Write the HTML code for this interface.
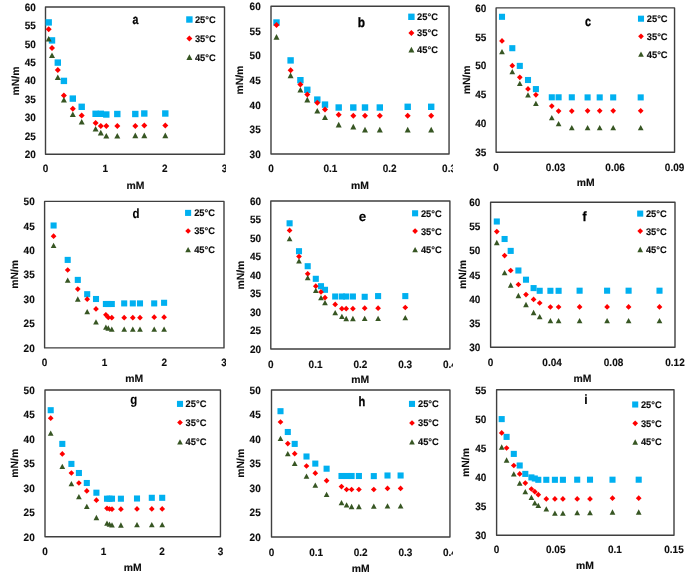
<!DOCTYPE html>
<html><head><meta charset="utf-8"><style>
html,body{margin:0;padding:0;background:#fff;}
body{width:685px;height:572px;overflow:hidden;}
svg{display:block;text-rendering:geometricPrecision;will-change:transform;}
text{font-family:"Liberation Sans",sans-serif;font-weight:bold;fill:#0d0d0d;stroke:#0d0d0d;stroke-width:0.12px;}
</style></head><body>
<svg width="685" height="572" viewBox="0 0 685 572">
<rect x="0" y="0" width="685" height="572" fill="#fff"/>
<defs>
<clipPath id="ca"><rect x="0" y="0" width="226" height="190"/></clipPath>
<clipPath id="cb"><rect x="226" y="0" width="227" height="190"/></clipPath>
<clipPath id="cc"><rect x="453" y="0" width="232" height="190"/></clipPath>
<clipPath id="cd"><rect x="0" y="190" width="226" height="196"/></clipPath>
<clipPath id="ce"><rect x="226" y="190" width="227" height="196"/></clipPath>
<clipPath id="cf"><rect x="453" y="190" width="232" height="196"/></clipPath>
<clipPath id="cg"><rect x="0" y="386" width="226" height="186"/></clipPath>
<clipPath id="ch"><rect x="226" y="386" width="227" height="186"/></clipPath>
<clipPath id="ci"><rect x="453" y="386" width="232" height="186"/></clipPath>
</defs>
<g clip-path="url(#ca)">
<rect x="45.5" y="7" width="179" height="147.3" fill="none" stroke="#3f3f3f" stroke-width="1.4" stroke-linejoin="round"/>
<text transform="translate(35.8 154.3) scale(1.02 1.08)" y="3.5" text-anchor="end" font-size="9.8">20</text>
<text transform="translate(35.8 135.89) scale(1.02 1.08)" y="3.5" text-anchor="end" font-size="9.8">25</text>
<text transform="translate(35.8 117.48) scale(1.02 1.08)" y="3.5" text-anchor="end" font-size="9.8">30</text>
<text transform="translate(35.8 99.06) scale(1.02 1.08)" y="3.5" text-anchor="end" font-size="9.8">35</text>
<text transform="translate(35.8 80.65) scale(1.02 1.08)" y="3.5" text-anchor="end" font-size="9.8">40</text>
<text transform="translate(35.8 62.24) scale(1.02 1.08)" y="3.5" text-anchor="end" font-size="9.8">45</text>
<text transform="translate(35.8 43.83) scale(1.02 1.08)" y="3.5" text-anchor="end" font-size="9.8">50</text>
<text transform="translate(35.8 25.41) scale(1.02 1.08)" y="3.5" text-anchor="end" font-size="9.8">55</text>
<text transform="translate(35.8 7) scale(1.02 1.08)" y="3.5" text-anchor="end" font-size="9.8">60</text>
<text transform="translate(45.5 168.7) scale(1.02 1.08)" y="3.5" text-anchor="middle" font-size="9.8">0</text>
<text transform="translate(105.17 168.7) scale(1.02 1.08)" y="3.5" text-anchor="middle" font-size="9.8">1</text>
<text transform="translate(164.83 168.7) scale(1.02 1.08)" y="3.5" text-anchor="middle" font-size="9.8">2</text>
<text transform="translate(224.5 168.7) scale(1.02 1.08)" y="3.5" text-anchor="middle" font-size="9.8">3</text>
<text x="135.4" y="188.7" text-anchor="middle" font-size="10.4">mM</text>
<text transform="translate(19 81) rotate(-90)" x="0" y="0" text-anchor="middle" font-size="10.4" textLength="28.9" lengthAdjust="spacingAndGlyphs">mN/m</text>
<text transform="translate(135.3 23.7) scale(0.78 1)" x="0" y="0" text-anchor="middle" font-size="13.5" style="fill:#000;stroke:#000;stroke-width:0.3px">a</text>
<rect x="186.2" y="16.3" width="6.4" height="6.4" fill="#00B0F0"/>
<path d="M189.4 35.4L192.4 38.4L189.4 41.4L186.4 38.4Z" fill="#FF0000"/>
<path d="M189.4 54.3L192.4 59.9L186.4 59.9Z" fill="#375623"/>
<text x="194.9" y="22.9" font-size="9.6" textLength="20.8" lengthAdjust="spacingAndGlyphs">25°C</text>
<text x="194.9" y="41.8" font-size="9.6" textLength="20.8" lengthAdjust="spacingAndGlyphs">35°C</text>
<text x="194.9" y="60.5" font-size="9.6" textLength="20.8" lengthAdjust="spacingAndGlyphs">45°C</text>
<rect x="45.5" y="19.2" width="6.4" height="6.4" fill="#00B0F0"/>
<rect x="48.8" y="37.2" width="6.4" height="6.4" fill="#00B0F0"/>
<rect x="54.6" y="59.4" width="6.4" height="6.4" fill="#00B0F0"/>
<rect x="60.7" y="77.7" width="6.4" height="6.4" fill="#00B0F0"/>
<rect x="69.6" y="95.4" width="6.4" height="6.4" fill="#00B0F0"/>
<rect x="78.5" y="103.6" width="6.4" height="6.4" fill="#00B0F0"/>
<rect x="92.4" y="110.6" width="6.4" height="6.4" fill="#00B0F0"/>
<rect x="97.6" y="110.6" width="6.4" height="6.4" fill="#00B0F0"/>
<rect x="103.1" y="111.3" width="6.4" height="6.4" fill="#00B0F0"/>
<rect x="114.1" y="110.8" width="6.4" height="6.4" fill="#00B0F0"/>
<rect x="132.1" y="110.8" width="6.4" height="6.4" fill="#00B0F0"/>
<rect x="141.1" y="110.3" width="6.4" height="6.4" fill="#00B0F0"/>
<rect x="162.1" y="110.3" width="6.4" height="6.4" fill="#00B0F0"/>
<path d="M48.7 26.3L51.7 29.3L48.7 32.3L45.7 29.3Z" fill="#FF0000"/>
<path d="M52 44.9L55 47.9L52 50.9L49 47.9Z" fill="#FF0000"/>
<path d="M57.8 67.1L60.8 70.1L57.8 73.1L54.8 70.1Z" fill="#FF0000"/>
<path d="M63.9 92.4L66.9 95.4L63.9 98.4L60.9 95.4Z" fill="#FF0000"/>
<path d="M72.8 105.7L75.8 108.7L72.8 111.7L69.8 108.7Z" fill="#FF0000"/>
<path d="M81.7 112.6L84.7 115.6L81.7 118.6L78.7 115.6Z" fill="#FF0000"/>
<path d="M95.6 119.9L98.6 122.9L95.6 125.9L92.6 122.9Z" fill="#FF0000"/>
<path d="M100.8 122.9L103.8 125.9L100.8 128.9L97.8 125.9Z" fill="#FF0000"/>
<path d="M106.3 122.9L109.3 125.9L106.3 128.9L103.3 125.9Z" fill="#FF0000"/>
<path d="M117.3 122.9L120.3 125.9L117.3 128.9L114.3 125.9Z" fill="#FF0000"/>
<path d="M135.3 122.9L138.3 125.9L135.3 128.9L132.3 125.9Z" fill="#FF0000"/>
<path d="M144.3 122.5L147.3 125.5L144.3 128.5L141.3 125.5Z" fill="#FF0000"/>
<path d="M165.3 122.5L168.3 125.5L165.3 128.5L162.3 125.5Z" fill="#FF0000"/>
<path d="M48.7 36L51.7 41.6L45.7 41.6Z" fill="#375623"/>
<path d="M52 52.5L55 58.1L49 58.1Z" fill="#375623"/>
<path d="M57.8 74.5L60.8 80.1L54.8 80.1Z" fill="#375623"/>
<path d="M63.9 97L66.9 102.6L60.9 102.6Z" fill="#375623"/>
<path d="M72.8 111.4L75.8 117L69.8 117Z" fill="#375623"/>
<path d="M81.7 118.9L84.7 124.5L78.7 124.5Z" fill="#375623"/>
<path d="M95.6 125.9L98.6 131.5L92.6 131.5Z" fill="#375623"/>
<path d="M100.8 129.8L103.8 135.4L97.8 135.4Z" fill="#375623"/>
<path d="M106.3 132.9L109.3 138.5L103.3 138.5Z" fill="#375623"/>
<path d="M117.3 132.9L120.3 138.5L114.3 138.5Z" fill="#375623"/>
<path d="M135.3 132.6L138.3 138.2L132.3 138.2Z" fill="#375623"/>
<path d="M144.3 132.6L147.3 138.2L141.3 138.2Z" fill="#375623"/>
<path d="M165.3 132.6L168.3 138.2L162.3 138.2Z" fill="#375623"/>
</g>
<g clip-path="url(#cb)">
<rect x="271" y="6.2" width="178.05" height="147.8" fill="none" stroke="#3f3f3f" stroke-width="1.4" stroke-linejoin="round"/>
<text transform="translate(260.7 154) scale(1.02 1.08)" y="3.5" text-anchor="end" font-size="9.8">30</text>
<text transform="translate(260.7 129.37) scale(1.02 1.08)" y="3.5" text-anchor="end" font-size="9.8">35</text>
<text transform="translate(260.7 104.73) scale(1.02 1.08)" y="3.5" text-anchor="end" font-size="9.8">40</text>
<text transform="translate(260.7 80.1) scale(1.02 1.08)" y="3.5" text-anchor="end" font-size="9.8">45</text>
<text transform="translate(260.7 55.47) scale(1.02 1.08)" y="3.5" text-anchor="end" font-size="9.8">50</text>
<text transform="translate(260.7 30.83) scale(1.02 1.08)" y="3.5" text-anchor="end" font-size="9.8">55</text>
<text transform="translate(260.7 6.2) scale(1.02 1.08)" y="3.5" text-anchor="end" font-size="9.8">60</text>
<text transform="translate(271 168.4) scale(1.02 1.08)" y="3.5" text-anchor="middle" font-size="9.8">0</text>
<text transform="translate(330.35 168.4) scale(1.02 1.08)" y="3.5" text-anchor="middle" font-size="9.8">0.1</text>
<text transform="translate(389.7 168.4) scale(1.02 1.08)" y="3.5" text-anchor="middle" font-size="9.8">0.2</text>
<text transform="translate(449.05 168.4) scale(1.02 1.08)" y="3.5" text-anchor="middle" font-size="9.8">0.3</text>
<text x="360" y="188.7" text-anchor="middle" font-size="10.4">mM</text>
<text transform="translate(243.3 80.1) rotate(-90)" x="0" y="0" text-anchor="middle" font-size="10.4" textLength="28.9" lengthAdjust="spacingAndGlyphs">mN/m</text>
<text transform="translate(361.3 26.8) scale(0.88 1)" x="0" y="0" text-anchor="middle" font-size="13.5" style="fill:#000;stroke:#000;stroke-width:0.3px">b</text>
<rect x="408.2" y="13.6" width="6.4" height="6.4" fill="#00B0F0"/>
<path d="M411.4 29.9L414.4 32.9L411.4 35.9L408.4 32.9Z" fill="#FF0000"/>
<path d="M411.4 46.8L414.4 52.4L408.4 52.4Z" fill="#375623"/>
<text x="417.1" y="20.2" font-size="9.6" textLength="20.8" lengthAdjust="spacingAndGlyphs">25°C</text>
<text x="417.1" y="36.3" font-size="9.6" textLength="20.8" lengthAdjust="spacingAndGlyphs">35°C</text>
<text x="417.1" y="53" font-size="9.6" textLength="20.8" lengthAdjust="spacingAndGlyphs">45°C</text>
<rect x="273.3" y="19.3" width="6.4" height="6.4" fill="#00B0F0"/>
<rect x="287.4" y="57.2" width="6.4" height="6.4" fill="#00B0F0"/>
<rect x="297.2" y="77" width="6.4" height="6.4" fill="#00B0F0"/>
<rect x="304.1" y="86.6" width="6.4" height="6.4" fill="#00B0F0"/>
<rect x="314.1" y="96.4" width="6.4" height="6.4" fill="#00B0F0"/>
<rect x="321.8" y="101.4" width="6.4" height="6.4" fill="#00B0F0"/>
<rect x="335.5" y="104.3" width="6.4" height="6.4" fill="#00B0F0"/>
<rect x="350.1" y="104.3" width="6.4" height="6.4" fill="#00B0F0"/>
<rect x="361.8" y="104.3" width="6.4" height="6.4" fill="#00B0F0"/>
<rect x="376.6" y="104.3" width="6.4" height="6.4" fill="#00B0F0"/>
<rect x="404.5" y="103.6" width="6.4" height="6.4" fill="#00B0F0"/>
<rect x="428" y="103.6" width="6.4" height="6.4" fill="#00B0F0"/>
<path d="M276.5 22L279.5 25L276.5 28L273.5 25Z" fill="#FF0000"/>
<path d="M290.6 67.2L293.6 70.2L290.6 73.2L287.6 70.2Z" fill="#FF0000"/>
<path d="M300.4 81.6L303.4 84.6L300.4 87.6L297.4 84.6Z" fill="#FF0000"/>
<path d="M307.3 91.6L310.3 94.6L307.3 97.6L304.3 94.6Z" fill="#FF0000"/>
<path d="M317.3 99.7L320.3 102.7L317.3 105.7L314.3 102.7Z" fill="#FF0000"/>
<path d="M325 106.4L328 109.4L325 112.4L322 109.4Z" fill="#FF0000"/>
<path d="M338.7 111.8L341.7 114.8L338.7 117.8L335.7 114.8Z" fill="#FF0000"/>
<path d="M353.3 112.8L356.3 115.8L353.3 118.8L350.3 115.8Z" fill="#FF0000"/>
<path d="M365 112.8L368 115.8L365 118.8L362 115.8Z" fill="#FF0000"/>
<path d="M379.8 112.8L382.8 115.8L379.8 118.8L376.8 115.8Z" fill="#FF0000"/>
<path d="M407.7 112.8L410.7 115.8L407.7 118.8L404.7 115.8Z" fill="#FF0000"/>
<path d="M431.2 112.8L434.2 115.8L431.2 118.8L428.2 115.8Z" fill="#FF0000"/>
<path d="M276.5 34.1L279.5 39.7L273.5 39.7Z" fill="#375623"/>
<path d="M290.6 72.6L293.6 78.2L287.6 78.2Z" fill="#375623"/>
<path d="M300.4 87L303.4 92.6L297.4 92.6Z" fill="#375623"/>
<path d="M307.3 96.8L310.3 102.4L304.3 102.4Z" fill="#375623"/>
<path d="M317.3 108L320.3 113.6L314.3 113.6Z" fill="#375623"/>
<path d="M325 114.5L328 120.1L322 120.1Z" fill="#375623"/>
<path d="M338.7 121.8L341.7 127.4L335.7 127.4Z" fill="#375623"/>
<path d="M353.3 123.8L356.3 129.4L350.3 129.4Z" fill="#375623"/>
<path d="M365 126.8L368 132.4L362 132.4Z" fill="#375623"/>
<path d="M379.8 126.8L382.8 132.4L376.8 132.4Z" fill="#375623"/>
<path d="M407.7 126.8L410.7 132.4L404.7 132.4Z" fill="#375623"/>
<path d="M431.2 126.8L434.2 132.4L428.2 132.4Z" fill="#375623"/>
</g>
<g clip-path="url(#cc)">
<rect x="496.1" y="7.9" width="178.45" height="144.4" fill="none" stroke="#3f3f3f" stroke-width="1.4" stroke-linejoin="round"/>
<text transform="translate(486.3 152.3) scale(1.02 1.08)" y="3.5" text-anchor="end" font-size="9.8">35</text>
<text transform="translate(486.3 123.42) scale(1.02 1.08)" y="3.5" text-anchor="end" font-size="9.8">40</text>
<text transform="translate(486.3 94.54) scale(1.02 1.08)" y="3.5" text-anchor="end" font-size="9.8">45</text>
<text transform="translate(486.3 65.66) scale(1.02 1.08)" y="3.5" text-anchor="end" font-size="9.8">50</text>
<text transform="translate(486.3 36.78) scale(1.02 1.08)" y="3.5" text-anchor="end" font-size="9.8">55</text>
<text transform="translate(486.3 7.9) scale(1.02 1.08)" y="3.5" text-anchor="end" font-size="9.8">60</text>
<text transform="translate(496.1 166.8) scale(1.02 1.08)" y="3.5" text-anchor="middle" font-size="9.8">0</text>
<text transform="translate(555.58 166.8) scale(1.02 1.08)" y="3.5" text-anchor="middle" font-size="9.8">0.03</text>
<text transform="translate(615.07 166.8) scale(1.02 1.08)" y="3.5" text-anchor="middle" font-size="9.8">0.06</text>
<text transform="translate(674.55 166.8) scale(1.02 1.08)" y="3.5" text-anchor="middle" font-size="9.8">0.09</text>
<text x="585.7" y="186.4" text-anchor="middle" font-size="10.4">mM</text>
<text transform="translate(469.5 79.9) rotate(-90)" x="0" y="0" text-anchor="middle" font-size="10.4" textLength="28.9" lengthAdjust="spacingAndGlyphs">mN/m</text>
<text transform="translate(588 25.9) scale(0.8 1)" x="0" y="0" text-anchor="middle" font-size="13.5" style="fill:#000;stroke:#000;stroke-width:0.3px">c</text>
<rect x="637.96" y="15.66" width="6.08" height="6.08" fill="#00B0F0"/>
<path d="M641 33.45L643.85 36.3L641 39.15L638.15 36.3Z" fill="#FF0000"/>
<path d="M641 51.54L643.85 56.86L638.15 56.86Z" fill="#375623"/>
<text x="646.8" y="22.1" font-size="9.6" textLength="20.8" lengthAdjust="spacingAndGlyphs">25°C</text>
<text x="646.8" y="39.7" font-size="9.6" textLength="20.8" lengthAdjust="spacingAndGlyphs">35°C</text>
<text x="646.8" y="57.6" font-size="9.6" textLength="20.8" lengthAdjust="spacingAndGlyphs">45°C</text>
<rect x="498.96" y="13.76" width="6.08" height="6.08" fill="#00B0F0"/>
<rect x="509.26" y="45.16" width="6.08" height="6.08" fill="#00B0F0"/>
<rect x="516.76" y="62.86" width="6.08" height="6.08" fill="#00B0F0"/>
<rect x="524.96" y="76.96" width="6.08" height="6.08" fill="#00B0F0"/>
<rect x="532.86" y="86.06" width="6.08" height="6.08" fill="#00B0F0"/>
<rect x="548.76" y="94.26" width="6.08" height="6.08" fill="#00B0F0"/>
<rect x="555.56" y="94.26" width="6.08" height="6.08" fill="#00B0F0"/>
<rect x="568.76" y="94.26" width="6.08" height="6.08" fill="#00B0F0"/>
<rect x="584.56" y="94.36" width="6.08" height="6.08" fill="#00B0F0"/>
<rect x="596.66" y="94.36" width="6.08" height="6.08" fill="#00B0F0"/>
<rect x="610.16" y="94.36" width="6.08" height="6.08" fill="#00B0F0"/>
<rect x="637.66" y="94.36" width="6.08" height="6.08" fill="#00B0F0"/>
<path d="M502 38.05L504.85 40.9L502 43.75L499.15 40.9Z" fill="#FF0000"/>
<path d="M512.3 62.85L515.15 65.7L512.3 68.55L509.45 65.7Z" fill="#FF0000"/>
<path d="M519.8 74.45L522.65 77.3L519.8 80.15L516.95 77.3Z" fill="#FF0000"/>
<path d="M528 86.05L530.85 88.9L528 91.75L525.15 88.9Z" fill="#FF0000"/>
<path d="M535.9 91.95L538.75 94.8L535.9 97.65L533.05 94.8Z" fill="#FF0000"/>
<path d="M551.8 103.25L554.65 106.1L551.8 108.95L548.95 106.1Z" fill="#FF0000"/>
<path d="M558.6 108.25L561.45 111.1L558.6 113.95L555.75 111.1Z" fill="#FF0000"/>
<path d="M571.8 108.25L574.65 111.1L571.8 113.95L568.95 111.1Z" fill="#FF0000"/>
<path d="M587.6 107.95L590.45 110.8L587.6 113.65L584.75 110.8Z" fill="#FF0000"/>
<path d="M599.7 107.95L602.55 110.8L599.7 113.65L596.85 110.8Z" fill="#FF0000"/>
<path d="M613.2 107.95L616.05 110.8L613.2 113.65L610.35 110.8Z" fill="#FF0000"/>
<path d="M640.7 107.95L643.55 110.8L640.7 113.65L637.85 110.8Z" fill="#FF0000"/>
<path d="M502 48.94L504.85 54.26L499.15 54.26Z" fill="#375623"/>
<path d="M512.3 68.94L515.15 74.26L509.45 74.26Z" fill="#375623"/>
<path d="M519.8 80.74L522.65 86.06L516.95 86.06Z" fill="#375623"/>
<path d="M528 92.14L530.85 97.46L525.15 97.46Z" fill="#375623"/>
<path d="M535.9 100.74L538.75 106.06L533.05 106.06Z" fill="#375623"/>
<path d="M551.8 115.04L554.65 120.36L548.95 120.36Z" fill="#375623"/>
<path d="M558.6 120.94L561.45 126.26L555.75 126.26Z" fill="#375623"/>
<path d="M571.8 125.04L574.65 130.36L568.95 130.36Z" fill="#375623"/>
<path d="M587.6 124.94L590.45 130.26L584.75 130.26Z" fill="#375623"/>
<path d="M599.7 124.94L602.55 130.26L596.85 130.26Z" fill="#375623"/>
<path d="M613.2 124.94L616.05 130.26L610.35 130.26Z" fill="#375623"/>
<path d="M640.7 124.94L643.55 130.26L637.85 130.26Z" fill="#375623"/>
</g>
<g clip-path="url(#cd)">
<rect x="44.6" y="201.4" width="179.4" height="146.5" fill="none" stroke="#3f3f3f" stroke-width="1.4" stroke-linejoin="round"/>
<text transform="translate(34.7 347.9) scale(1.02 1.08)" y="3.5" text-anchor="end" font-size="9.8">20</text>
<text transform="translate(34.7 323.48) scale(1.02 1.08)" y="3.5" text-anchor="end" font-size="9.8">25</text>
<text transform="translate(34.7 299.07) scale(1.02 1.08)" y="3.5" text-anchor="end" font-size="9.8">30</text>
<text transform="translate(34.7 274.65) scale(1.02 1.08)" y="3.5" text-anchor="end" font-size="9.8">35</text>
<text transform="translate(34.7 250.23) scale(1.02 1.08)" y="3.5" text-anchor="end" font-size="9.8">40</text>
<text transform="translate(34.7 225.82) scale(1.02 1.08)" y="3.5" text-anchor="end" font-size="9.8">45</text>
<text transform="translate(34.7 201.4) scale(1.02 1.08)" y="3.5" text-anchor="end" font-size="9.8">50</text>
<text transform="translate(44.6 362.3) scale(1.02 1.08)" y="3.5" text-anchor="middle" font-size="9.8">0</text>
<text transform="translate(104.4 362.3) scale(1.02 1.08)" y="3.5" text-anchor="middle" font-size="9.8">1</text>
<text transform="translate(164.2 362.3) scale(1.02 1.08)" y="3.5" text-anchor="middle" font-size="9.8">2</text>
<text transform="translate(224 362.3) scale(1.02 1.08)" y="3.5" text-anchor="middle" font-size="9.8">3</text>
<text x="134.1" y="382.4" text-anchor="middle" font-size="10.4">mM</text>
<text transform="translate(17.5 274.4) rotate(-90)" x="0" y="0" text-anchor="middle" font-size="10.4" textLength="28.9" lengthAdjust="spacingAndGlyphs">mN/m</text>
<text transform="translate(135.9 218.3) scale(0.85 1)" x="0" y="0" text-anchor="middle" font-size="13.5" style="fill:#000;stroke:#000;stroke-width:0.1px">d</text>
<rect x="185.06" y="209.86" width="6.08" height="6.08" fill="#00B0F0"/>
<path d="M188.1 228.15L190.95 231L188.1 233.85L185.25 231Z" fill="#FF0000"/>
<path d="M188.1 246.94L190.95 252.26L185.25 252.26Z" fill="#375623"/>
<text x="194.2" y="216.3" font-size="9.6" textLength="20.8" lengthAdjust="spacingAndGlyphs">25°C</text>
<text x="194.2" y="234.4" font-size="9.6" textLength="20.8" lengthAdjust="spacingAndGlyphs">35°C</text>
<text x="194.2" y="253" font-size="9.6" textLength="20.8" lengthAdjust="spacingAndGlyphs">45°C</text>
<rect x="50.56" y="222.46" width="6.08" height="6.08" fill="#00B0F0"/>
<rect x="64.66" y="256.86" width="6.08" height="6.08" fill="#00B0F0"/>
<rect x="74.76" y="276.86" width="6.08" height="6.08" fill="#00B0F0"/>
<rect x="84.16" y="291.16" width="6.08" height="6.08" fill="#00B0F0"/>
<rect x="92.96" y="295.96" width="6.08" height="6.08" fill="#00B0F0"/>
<rect x="102.86" y="300.96" width="6.08" height="6.08" fill="#00B0F0"/>
<rect x="105.26" y="300.96" width="6.08" height="6.08" fill="#00B0F0"/>
<rect x="108.76" y="300.96" width="6.08" height="6.08" fill="#00B0F0"/>
<rect x="121.16" y="300.36" width="6.08" height="6.08" fill="#00B0F0"/>
<rect x="129.76" y="300.36" width="6.08" height="6.08" fill="#00B0F0"/>
<rect x="136.96" y="300.36" width="6.08" height="6.08" fill="#00B0F0"/>
<rect x="151.16" y="300.36" width="6.08" height="6.08" fill="#00B0F0"/>
<rect x="161.06" y="299.76" width="6.08" height="6.08" fill="#00B0F0"/>
<path d="M53.6 233.35L56.45 236.2L53.6 239.05L50.75 236.2Z" fill="#FF0000"/>
<path d="M67.7 267.15L70.55 270L67.7 272.85L64.85 270Z" fill="#FF0000"/>
<path d="M77.8 286.25L80.65 289.1L77.8 291.95L74.95 289.1Z" fill="#FF0000"/>
<path d="M87.2 296.35L90.05 299.2L87.2 302.05L84.35 299.2Z" fill="#FF0000"/>
<path d="M96 306.05L98.85 308.9L96 311.75L93.15 308.9Z" fill="#FF0000"/>
<path d="M105.9 311.95L108.75 314.8L105.9 317.65L103.05 314.8Z" fill="#FF0000"/>
<path d="M108.3 314.55L111.15 317.4L108.3 320.25L105.45 317.4Z" fill="#FF0000"/>
<path d="M111.8 314.85L114.65 317.7L111.8 320.55L108.95 317.7Z" fill="#FF0000"/>
<path d="M124.2 314.85L127.05 317.7L124.2 320.55L121.35 317.7Z" fill="#FF0000"/>
<path d="M132.8 314.85L135.65 317.7L132.8 320.55L129.95 317.7Z" fill="#FF0000"/>
<path d="M140 314.85L142.85 317.7L140 320.55L137.15 317.7Z" fill="#FF0000"/>
<path d="M154.2 314.35L157.05 317.2L154.2 320.05L151.35 317.2Z" fill="#FF0000"/>
<path d="M164.1 314.35L166.95 317.2L164.1 320.05L161.25 317.2Z" fill="#FF0000"/>
<path d="M53.6 242.74L56.45 248.06L50.75 248.06Z" fill="#375623"/>
<path d="M67.7 277.44L70.55 282.76L64.85 282.76Z" fill="#375623"/>
<path d="M77.8 296.34L80.65 301.66L74.95 301.66Z" fill="#375623"/>
<path d="M87.2 308.94L90.05 314.26L84.35 314.26Z" fill="#375623"/>
<path d="M96 319.24L98.85 324.56L93.15 324.56Z" fill="#375623"/>
<path d="M105.9 324.44L108.75 329.76L103.05 329.76Z" fill="#375623"/>
<path d="M108.3 325.34L111.15 330.66L105.45 330.66Z" fill="#375623"/>
<path d="M111.8 326.44L114.65 331.76L108.95 331.76Z" fill="#375623"/>
<path d="M124.2 326.44L127.05 331.76L121.35 331.76Z" fill="#375623"/>
<path d="M132.8 326.44L135.65 331.76L129.95 331.76Z" fill="#375623"/>
<path d="M140 326.44L142.85 331.76L137.15 331.76Z" fill="#375623"/>
<path d="M154.2 326.44L157.05 331.76L151.35 331.76Z" fill="#375623"/>
<path d="M164.1 326.44L166.95 331.76L161.25 331.76Z" fill="#375623"/>
</g>
<g clip-path="url(#ce)">
<rect x="270.8" y="201" width="179.1" height="148.05" fill="none" stroke="#3f3f3f" stroke-width="1.4" stroke-linejoin="round"/>
<text transform="translate(261 349.05) scale(1.02 1.08)" y="3.5" text-anchor="end" font-size="9.8">20</text>
<text transform="translate(261 330.54) scale(1.02 1.08)" y="3.5" text-anchor="end" font-size="9.8">25</text>
<text transform="translate(261 312.04) scale(1.02 1.08)" y="3.5" text-anchor="end" font-size="9.8">30</text>
<text transform="translate(261 293.53) scale(1.02 1.08)" y="3.5" text-anchor="end" font-size="9.8">35</text>
<text transform="translate(261 275.02) scale(1.02 1.08)" y="3.5" text-anchor="end" font-size="9.8">40</text>
<text transform="translate(261 256.52) scale(1.02 1.08)" y="3.5" text-anchor="end" font-size="9.8">45</text>
<text transform="translate(261 238.01) scale(1.02 1.08)" y="3.5" text-anchor="end" font-size="9.8">50</text>
<text transform="translate(261 219.51) scale(1.02 1.08)" y="3.5" text-anchor="end" font-size="9.8">55</text>
<text transform="translate(261 201) scale(1.02 1.08)" y="3.5" text-anchor="end" font-size="9.8">60</text>
<text transform="translate(270.8 363.8) scale(1.02 1.08)" y="3.5" text-anchor="middle" font-size="9.8">0</text>
<text transform="translate(315.57 363.8) scale(1.02 1.08)" y="3.5" text-anchor="middle" font-size="9.8">0.1</text>
<text transform="translate(360.35 363.8) scale(1.02 1.08)" y="3.5" text-anchor="middle" font-size="9.8">0.2</text>
<text transform="translate(405.12 363.8) scale(1.02 1.08)" y="3.5" text-anchor="middle" font-size="9.8">0.3</text>
<text transform="translate(449.9 363.8) scale(1.02 1.08)" y="3.5" text-anchor="middle" font-size="9.8">0.4</text>
<text x="360.1" y="383" text-anchor="middle" font-size="10.4">mM</text>
<text transform="translate(243.5 275.1) rotate(-90)" x="0" y="0" text-anchor="middle" font-size="10.4" textLength="28.9" lengthAdjust="spacingAndGlyphs">mN/m</text>
<text transform="translate(362.6 220.5) scale(1.0 1)" x="0" y="0" text-anchor="middle" font-size="13.5" style="fill:#000;stroke:#000;stroke-width:0.1px">e</text>
<rect x="412.06" y="210.26" width="6.08" height="6.08" fill="#00B0F0"/>
<path d="M415.1 228.25L417.95 231.1L415.1 233.95L412.25 231.1Z" fill="#FF0000"/>
<path d="M415.1 247.04L417.95 252.36L412.25 252.36Z" fill="#375623"/>
<text x="420.9" y="216.7" font-size="9.6" textLength="20.8" lengthAdjust="spacingAndGlyphs">25°C</text>
<text x="420.9" y="234.5" font-size="9.6" textLength="20.8" lengthAdjust="spacingAndGlyphs">35°C</text>
<text x="420.9" y="253.1" font-size="9.6" textLength="20.8" lengthAdjust="spacingAndGlyphs">45°C</text>
<rect x="286.56" y="220.26" width="6.08" height="6.08" fill="#00B0F0"/>
<rect x="295.96" y="248.16" width="6.08" height="6.08" fill="#00B0F0"/>
<rect x="304.66" y="263.16" width="6.08" height="6.08" fill="#00B0F0"/>
<rect x="312.76" y="275.76" width="6.08" height="6.08" fill="#00B0F0"/>
<rect x="317.96" y="283.16" width="6.08" height="6.08" fill="#00B0F0"/>
<rect x="321.96" y="286.76" width="6.08" height="6.08" fill="#00B0F0"/>
<rect x="332.16" y="293.46" width="6.08" height="6.08" fill="#00B0F0"/>
<rect x="338.86" y="293.46" width="6.08" height="6.08" fill="#00B0F0"/>
<rect x="343.16" y="293.46" width="6.08" height="6.08" fill="#00B0F0"/>
<rect x="349.86" y="293.46" width="6.08" height="6.08" fill="#00B0F0"/>
<rect x="361.66" y="293.76" width="6.08" height="6.08" fill="#00B0F0"/>
<rect x="375.06" y="293.06" width="6.08" height="6.08" fill="#00B0F0"/>
<rect x="402.26" y="293.06" width="6.08" height="6.08" fill="#00B0F0"/>
<path d="M289.6 227.55L292.45 230.4L289.6 233.25L286.75 230.4Z" fill="#FF0000"/>
<path d="M299 253.65L301.85 256.5L299 259.35L296.15 256.5Z" fill="#FF0000"/>
<path d="M307.7 270.95L310.55 273.8L307.7 276.65L304.85 273.8Z" fill="#FF0000"/>
<path d="M315.8 283.35L318.65 286.2L315.8 289.05L312.95 286.2Z" fill="#FF0000"/>
<path d="M321 289.05L323.85 291.9L321 294.75L318.15 291.9Z" fill="#FF0000"/>
<path d="M325 294.85L327.85 297.7L325 300.55L322.15 297.7Z" fill="#FF0000"/>
<path d="M335.2 301.55L338.05 304.4L335.2 307.25L332.35 304.4Z" fill="#FF0000"/>
<path d="M341.9 305.85L344.75 308.7L341.9 311.55L339.05 308.7Z" fill="#FF0000"/>
<path d="M346.2 305.85L349.05 308.7L346.2 311.55L343.35 308.7Z" fill="#FF0000"/>
<path d="M352.9 305.85L355.75 308.7L352.9 311.55L350.05 308.7Z" fill="#FF0000"/>
<path d="M364.7 305.35L367.55 308.2L364.7 311.05L361.85 308.2Z" fill="#FF0000"/>
<path d="M378.1 305.35L380.95 308.2L378.1 311.05L375.25 308.2Z" fill="#FF0000"/>
<path d="M405.3 304.65L408.15 307.5L405.3 310.35L402.45 307.5Z" fill="#FF0000"/>
<path d="M289.6 236.04L292.45 241.36L286.75 241.36Z" fill="#375623"/>
<path d="M299 258.14L301.85 263.46L296.15 263.46Z" fill="#375623"/>
<path d="M307.7 275.04L310.55 280.36L304.85 280.36Z" fill="#375623"/>
<path d="M315.8 287.74L318.65 293.06L312.95 293.06Z" fill="#375623"/>
<path d="M321 295.04L323.85 300.36L318.15 300.36Z" fill="#375623"/>
<path d="M325 300.04L327.85 305.36L322.15 305.36Z" fill="#375623"/>
<path d="M335.2 310.04L338.05 315.36L332.35 315.36Z" fill="#375623"/>
<path d="M341.9 313.64L344.75 318.96L339.05 318.96Z" fill="#375623"/>
<path d="M346.2 315.84L349.05 321.16L343.35 321.16Z" fill="#375623"/>
<path d="M352.9 315.84L355.75 321.16L350.05 321.16Z" fill="#375623"/>
<path d="M364.7 315.64L367.55 320.96L361.85 320.96Z" fill="#375623"/>
<path d="M378.1 315.64L380.95 320.96L375.25 320.96Z" fill="#375623"/>
<path d="M405.3 314.94L408.15 320.26L402.45 320.26Z" fill="#375623"/>
</g>
<g clip-path="url(#cf)">
<rect x="490.6" y="202.25" width="184.4" height="145" fill="none" stroke="#3f3f3f" stroke-width="1.4" stroke-linejoin="round"/>
<text transform="translate(480.4 347.25) scale(1.02 1.08)" y="3.5" text-anchor="end" font-size="9.8">30</text>
<text transform="translate(480.4 323.08) scale(1.02 1.08)" y="3.5" text-anchor="end" font-size="9.8">35</text>
<text transform="translate(480.4 298.92) scale(1.02 1.08)" y="3.5" text-anchor="end" font-size="9.8">40</text>
<text transform="translate(480.4 274.75) scale(1.02 1.08)" y="3.5" text-anchor="end" font-size="9.8">45</text>
<text transform="translate(480.4 250.58) scale(1.02 1.08)" y="3.5" text-anchor="end" font-size="9.8">50</text>
<text transform="translate(480.4 226.42) scale(1.02 1.08)" y="3.5" text-anchor="end" font-size="9.8">55</text>
<text transform="translate(480.4 202.25) scale(1.02 1.08)" y="3.5" text-anchor="end" font-size="9.8">60</text>
<text transform="translate(490.6 361.8) scale(1.02 1.08)" y="3.5" text-anchor="middle" font-size="9.8">0</text>
<text transform="translate(552.07 361.8) scale(1.02 1.08)" y="3.5" text-anchor="middle" font-size="9.8">0.04</text>
<text transform="translate(613.53 361.8) scale(1.02 1.08)" y="3.5" text-anchor="middle" font-size="9.8">0.08</text>
<text transform="translate(675 361.8) scale(1.02 1.08)" y="3.5" text-anchor="middle" font-size="9.8">0.12</text>
<text x="582.5" y="381.9" text-anchor="middle" font-size="10.4">mM</text>
<text transform="translate(465.5 274.5) rotate(-90)" x="0" y="0" text-anchor="middle" font-size="10.4" textLength="28.9" lengthAdjust="spacingAndGlyphs">mN/m</text>
<text transform="translate(584.4 220.8) scale(0.9 1)" x="0" y="0" text-anchor="middle" font-size="13.5" style="fill:#000;stroke:#000;stroke-width:0.3px">f</text>
<rect x="637.16" y="210.56" width="6.08" height="6.08" fill="#00B0F0"/>
<path d="M640.2 228.25L643.05 231.1L640.2 233.95L637.35 231.1Z" fill="#FF0000"/>
<path d="M640.2 246.84L643.05 252.16L637.35 252.16Z" fill="#375623"/>
<text x="645.9" y="217" font-size="9.6" textLength="20.8" lengthAdjust="spacingAndGlyphs">25°C</text>
<text x="645.9" y="234.5" font-size="9.6" textLength="20.8" lengthAdjust="spacingAndGlyphs">35°C</text>
<text x="645.9" y="252.9" font-size="9.6" textLength="20.8" lengthAdjust="spacingAndGlyphs">45°C</text>
<rect x="493.76" y="218.46" width="6.08" height="6.08" fill="#00B0F0"/>
<rect x="501.56" y="235.96" width="6.08" height="6.08" fill="#00B0F0"/>
<rect x="507.66" y="247.86" width="6.08" height="6.08" fill="#00B0F0"/>
<rect x="515.36" y="267.46" width="6.08" height="6.08" fill="#00B0F0"/>
<rect x="522.96" y="276.66" width="6.08" height="6.08" fill="#00B0F0"/>
<rect x="530.56" y="285.06" width="6.08" height="6.08" fill="#00B0F0"/>
<rect x="536.66" y="287.76" width="6.08" height="6.08" fill="#00B0F0"/>
<rect x="547.36" y="287.76" width="6.08" height="6.08" fill="#00B0F0"/>
<rect x="555.56" y="287.76" width="6.08" height="6.08" fill="#00B0F0"/>
<rect x="576.56" y="287.66" width="6.08" height="6.08" fill="#00B0F0"/>
<rect x="604.06" y="287.66" width="6.08" height="6.08" fill="#00B0F0"/>
<rect x="625.56" y="287.66" width="6.08" height="6.08" fill="#00B0F0"/>
<rect x="656.46" y="287.66" width="6.08" height="6.08" fill="#00B0F0"/>
<path d="M496.8 228.75L499.65 231.6L496.8 234.45L493.95 231.6Z" fill="#FF0000"/>
<path d="M504.6 252.75L507.45 255.6L504.6 258.45L501.75 255.6Z" fill="#FF0000"/>
<path d="M510.7 267.65L513.55 270.5L510.7 273.35L507.85 270.5Z" fill="#FF0000"/>
<path d="M518.4 281.65L521.25 284.5L518.4 287.35L515.55 284.5Z" fill="#FF0000"/>
<path d="M526 291.75L528.85 294.6L526 297.45L523.15 294.6Z" fill="#FF0000"/>
<path d="M533.6 296.55L536.45 299.4L533.6 302.25L530.75 299.4Z" fill="#FF0000"/>
<path d="M539.7 300.15L542.55 303L539.7 305.85L536.85 303Z" fill="#FF0000"/>
<path d="M550.4 304.15L553.25 307L550.4 309.85L547.55 307Z" fill="#FF0000"/>
<path d="M558.6 304.15L561.45 307L558.6 309.85L555.75 307Z" fill="#FF0000"/>
<path d="M579.6 304.05L582.45 306.9L579.6 309.75L576.75 306.9Z" fill="#FF0000"/>
<path d="M607.1 304.05L609.95 306.9L607.1 309.75L604.25 306.9Z" fill="#FF0000"/>
<path d="M628.6 304.05L631.45 306.9L628.6 309.75L625.75 306.9Z" fill="#FF0000"/>
<path d="M659.5 304.05L662.35 306.9L659.5 309.75L656.65 306.9Z" fill="#FF0000"/>
<path d="M496.8 239.84L499.65 245.16L493.95 245.16Z" fill="#375623"/>
<path d="M504.6 269.94L507.45 275.26L501.75 275.26Z" fill="#375623"/>
<path d="M510.7 282.34L513.55 287.66L507.85 287.66Z" fill="#375623"/>
<path d="M518.4 292.84L521.25 298.16L515.55 298.16Z" fill="#375623"/>
<path d="M526 301.84L528.85 307.16L523.15 307.16Z" fill="#375623"/>
<path d="M533.6 309.84L536.45 315.16L530.75 315.16Z" fill="#375623"/>
<path d="M539.7 314.04L542.55 319.36L536.85 319.36Z" fill="#375623"/>
<path d="M550.4 318.04L553.25 323.36L547.55 323.36Z" fill="#375623"/>
<path d="M558.6 318.04L561.45 323.36L555.75 323.36Z" fill="#375623"/>
<path d="M579.6 317.94L582.45 323.26L576.75 323.26Z" fill="#375623"/>
<path d="M607.1 317.94L609.95 323.26L604.25 323.26Z" fill="#375623"/>
<path d="M628.6 317.94L631.45 323.26L625.75 323.26Z" fill="#375623"/>
<path d="M659.5 317.94L662.35 323.26L656.65 323.26Z" fill="#375623"/>
</g>
<g clip-path="url(#cg)">
<rect x="45" y="390" width="175.45" height="146.8" fill="none" stroke="#3f3f3f" stroke-width="1.4" stroke-linejoin="round"/>
<text transform="translate(34.7 536.8) scale(1.02 1.08)" y="3.5" text-anchor="end" font-size="9.8">20</text>
<text transform="translate(34.7 512.33) scale(1.02 1.08)" y="3.5" text-anchor="end" font-size="9.8">25</text>
<text transform="translate(34.7 487.87) scale(1.02 1.08)" y="3.5" text-anchor="end" font-size="9.8">30</text>
<text transform="translate(34.7 463.4) scale(1.02 1.08)" y="3.5" text-anchor="end" font-size="9.8">35</text>
<text transform="translate(34.7 438.93) scale(1.02 1.08)" y="3.5" text-anchor="end" font-size="9.8">40</text>
<text transform="translate(34.7 414.47) scale(1.02 1.08)" y="3.5" text-anchor="end" font-size="9.8">45</text>
<text transform="translate(34.7 390) scale(1.02 1.08)" y="3.5" text-anchor="end" font-size="9.8">50</text>
<text transform="translate(45 551.3) scale(1.02 1.08)" y="3.5" text-anchor="middle" font-size="9.8">0</text>
<text transform="translate(103.48 551.3) scale(1.02 1.08)" y="3.5" text-anchor="middle" font-size="9.8">1</text>
<text transform="translate(161.97 551.3) scale(1.02 1.08)" y="3.5" text-anchor="middle" font-size="9.8">2</text>
<text transform="translate(220.45 551.3) scale(1.02 1.08)" y="3.5" text-anchor="middle" font-size="9.8">3</text>
<text x="132.6" y="571" text-anchor="middle" font-size="10.4">mM</text>
<text transform="translate(17.9 463.2) rotate(-90)" x="0" y="0" text-anchor="middle" font-size="10.4" textLength="28.9" lengthAdjust="spacingAndGlyphs">mN/m</text>
<text transform="translate(133.8 403.8) scale(0.85 1)" x="0" y="0" text-anchor="middle" font-size="13.5" style="fill:#000;stroke:#000;stroke-width:0.1px">g</text>
<rect x="176.96" y="400.86" width="6.08" height="6.08" fill="#00B0F0"/>
<path d="M180 419.65L182.85 422.5L180 425.35L177.15 422.5Z" fill="#FF0000"/>
<path d="M180 439.14L182.85 444.46L177.15 444.46Z" fill="#375623"/>
<text x="185.6" y="407.3" font-size="9.6" textLength="20.8" lengthAdjust="spacingAndGlyphs">25°C</text>
<text x="185.6" y="425.9" font-size="9.6" textLength="20.8" lengthAdjust="spacingAndGlyphs">35°C</text>
<text x="185.6" y="445.2" font-size="9.6" textLength="20.8" lengthAdjust="spacingAndGlyphs">45°C</text>
<rect x="47.66" y="407.16" width="6.08" height="6.08" fill="#00B0F0"/>
<rect x="59.26" y="440.86" width="6.08" height="6.08" fill="#00B0F0"/>
<rect x="68.36" y="460.86" width="6.08" height="6.08" fill="#00B0F0"/>
<rect x="75.86" y="469.96" width="6.08" height="6.08" fill="#00B0F0"/>
<rect x="83.76" y="479.96" width="6.08" height="6.08" fill="#00B0F0"/>
<rect x="93.36" y="489.66" width="6.08" height="6.08" fill="#00B0F0"/>
<rect x="103.96" y="495.66" width="6.08" height="6.08" fill="#00B0F0"/>
<rect x="106.46" y="495.66" width="6.08" height="6.08" fill="#00B0F0"/>
<rect x="108.96" y="495.66" width="6.08" height="6.08" fill="#00B0F0"/>
<rect x="117.86" y="495.66" width="6.08" height="6.08" fill="#00B0F0"/>
<rect x="133.96" y="495.46" width="6.08" height="6.08" fill="#00B0F0"/>
<rect x="148.76" y="494.76" width="6.08" height="6.08" fill="#00B0F0"/>
<rect x="159.16" y="494.76" width="6.08" height="6.08" fill="#00B0F0"/>
<path d="M50.7 415.35L53.55 418.2L50.7 421.05L47.85 418.2Z" fill="#FF0000"/>
<path d="M62.3 451.05L65.15 453.9L62.3 456.75L59.45 453.9Z" fill="#FF0000"/>
<path d="M71.4 470.15L74.25 473L71.4 475.85L68.55 473Z" fill="#FF0000"/>
<path d="M78.9 480.15L81.75 483L78.9 485.85L76.05 483Z" fill="#FF0000"/>
<path d="M86.8 488.05L89.65 490.9L86.8 493.75L83.95 490.9Z" fill="#FF0000"/>
<path d="M96.4 497.35L99.25 500.2L96.4 503.05L93.55 500.2Z" fill="#FF0000"/>
<path d="M107 505.45L109.85 508.3L107 511.15L104.15 508.3Z" fill="#FF0000"/>
<path d="M109.5 506.15L112.35 509L109.5 511.85L106.65 509Z" fill="#FF0000"/>
<path d="M112 506.35L114.85 509.2L112 512.05L109.15 509.2Z" fill="#FF0000"/>
<path d="M120.9 506.35L123.75 509.2L120.9 512.05L118.05 509.2Z" fill="#FF0000"/>
<path d="M137 506.05L139.85 508.9L137 511.75L134.15 508.9Z" fill="#FF0000"/>
<path d="M151.8 506.05L154.65 508.9L151.8 511.75L148.95 508.9Z" fill="#FF0000"/>
<path d="M162.2 506.05L165.05 508.9L162.2 511.75L159.35 508.9Z" fill="#FF0000"/>
<path d="M50.7 430.54L53.55 435.86L47.85 435.86Z" fill="#375623"/>
<path d="M62.3 463.74L65.15 469.06L59.45 469.06Z" fill="#375623"/>
<path d="M71.4 480.94L74.25 486.26L68.55 486.26Z" fill="#375623"/>
<path d="M78.9 493.94L81.75 499.26L76.05 499.26Z" fill="#375623"/>
<path d="M86.8 503.74L89.65 509.06L83.95 509.06Z" fill="#375623"/>
<path d="M96.4 514.84L99.25 520.16L93.55 520.16Z" fill="#375623"/>
<path d="M107 520.54L109.85 525.86L104.15 525.86Z" fill="#375623"/>
<path d="M109.5 521.44L112.35 526.76L106.65 526.76Z" fill="#375623"/>
<path d="M112 522.14L114.85 527.46L109.15 527.46Z" fill="#375623"/>
<path d="M120.9 522.34L123.75 527.66L118.05 527.66Z" fill="#375623"/>
<path d="M137 522.04L139.85 527.36L134.15 527.36Z" fill="#375623"/>
<path d="M151.8 522.04L154.65 527.36L148.95 527.36Z" fill="#375623"/>
<path d="M162.2 522.04L165.05 527.36L159.35 527.36Z" fill="#375623"/>
</g>
<g clip-path="url(#ch)">
<rect x="271.5" y="390" width="178.45" height="147.05" fill="none" stroke="#3f3f3f" stroke-width="1.4" stroke-linejoin="round"/>
<text transform="translate(260.7 537.05) scale(1.02 1.08)" y="3.5" text-anchor="end" font-size="9.8">20</text>
<text transform="translate(260.7 512.54) scale(1.02 1.08)" y="3.5" text-anchor="end" font-size="9.8">25</text>
<text transform="translate(260.7 488.03) scale(1.02 1.08)" y="3.5" text-anchor="end" font-size="9.8">30</text>
<text transform="translate(260.7 463.52) scale(1.02 1.08)" y="3.5" text-anchor="end" font-size="9.8">35</text>
<text transform="translate(260.7 439.02) scale(1.02 1.08)" y="3.5" text-anchor="end" font-size="9.8">40</text>
<text transform="translate(260.7 414.51) scale(1.02 1.08)" y="3.5" text-anchor="end" font-size="9.8">45</text>
<text transform="translate(260.7 390) scale(1.02 1.08)" y="3.5" text-anchor="end" font-size="9.8">50</text>
<text transform="translate(271.5 551.9) scale(1.02 1.08)" y="3.5" text-anchor="middle" font-size="9.8">0</text>
<text transform="translate(316.11 551.9) scale(1.02 1.08)" y="3.5" text-anchor="middle" font-size="9.8">0.1</text>
<text transform="translate(360.73 551.9) scale(1.02 1.08)" y="3.5" text-anchor="middle" font-size="9.8">0.2</text>
<text transform="translate(405.34 551.9) scale(1.02 1.08)" y="3.5" text-anchor="middle" font-size="9.8">0.3</text>
<text transform="translate(449.95 551.9) scale(1.02 1.08)" y="3.5" text-anchor="middle" font-size="9.8">0.4</text>
<text x="360.6" y="572" text-anchor="middle" font-size="10.4">mM</text>
<text transform="translate(243.5 463.2) rotate(-90)" x="0" y="0" text-anchor="middle" font-size="10.4" textLength="28.9" lengthAdjust="spacingAndGlyphs">mN/m</text>
<text transform="translate(362 405.8) scale(0.82 1)" x="0" y="0" text-anchor="middle" font-size="13.5" style="fill:#000;stroke:#000;stroke-width:0.3px">h</text>
<rect x="408.96" y="400.86" width="6.08" height="6.08" fill="#00B0F0"/>
<path d="M412 420.15L414.85 423L412 425.85L409.15 423Z" fill="#FF0000"/>
<path d="M412 439.14L414.85 444.46L409.15 444.46Z" fill="#375623"/>
<text x="418" y="407.3" font-size="9.6" textLength="20.8" lengthAdjust="spacingAndGlyphs">25°C</text>
<text x="418" y="426.4" font-size="9.6" textLength="20.8" lengthAdjust="spacingAndGlyphs">35°C</text>
<text x="418" y="445.2" font-size="9.6" textLength="20.8" lengthAdjust="spacingAndGlyphs">45°C</text>
<rect x="277.46" y="408.16" width="6.08" height="6.08" fill="#00B0F0"/>
<rect x="284.76" y="428.96" width="6.08" height="6.08" fill="#00B0F0"/>
<rect x="291.66" y="440.86" width="6.08" height="6.08" fill="#00B0F0"/>
<rect x="303.46" y="453.46" width="6.08" height="6.08" fill="#00B0F0"/>
<rect x="312.26" y="460.56" width="6.08" height="6.08" fill="#00B0F0"/>
<rect x="323.56" y="465.66" width="6.08" height="6.08" fill="#00B0F0"/>
<rect x="338.46" y="472.96" width="6.08" height="6.08" fill="#00B0F0"/>
<rect x="343.56" y="472.96" width="6.08" height="6.08" fill="#00B0F0"/>
<rect x="348.56" y="472.96" width="6.08" height="6.08" fill="#00B0F0"/>
<rect x="355.86" y="472.96" width="6.08" height="6.08" fill="#00B0F0"/>
<rect x="370.76" y="473.06" width="6.08" height="6.08" fill="#00B0F0"/>
<rect x="384.46" y="472.46" width="6.08" height="6.08" fill="#00B0F0"/>
<rect x="397.56" y="472.46" width="6.08" height="6.08" fill="#00B0F0"/>
<path d="M280.5 419.15L283.35 422L280.5 424.85L277.65 422Z" fill="#FF0000"/>
<path d="M287.8 440.75L290.65 443.6L287.8 446.45L284.95 443.6Z" fill="#FF0000"/>
<path d="M294.7 450.85L297.55 453.7L294.7 456.55L291.85 453.7Z" fill="#FF0000"/>
<path d="M306.5 463.15L309.35 466L306.5 468.85L303.65 466Z" fill="#FF0000"/>
<path d="M315.3 470.35L318.15 473.2L315.3 476.05L312.45 473.2Z" fill="#FF0000"/>
<path d="M326.6 477.85L329.45 480.7L326.6 483.55L323.75 480.7Z" fill="#FF0000"/>
<path d="M341.5 483.75L344.35 486.6L341.5 489.45L338.65 486.6Z" fill="#FF0000"/>
<path d="M346.6 486.65L349.45 489.5L346.6 492.35L343.75 489.5Z" fill="#FF0000"/>
<path d="M351.6 486.65L354.45 489.5L351.6 492.35L348.75 489.5Z" fill="#FF0000"/>
<path d="M358.9 486.65L361.75 489.5L358.9 492.35L356.05 489.5Z" fill="#FF0000"/>
<path d="M373.8 486.65L376.65 489.5L373.8 492.35L370.95 489.5Z" fill="#FF0000"/>
<path d="M387.5 485.55L390.35 488.4L387.5 491.25L384.65 488.4Z" fill="#FF0000"/>
<path d="M400.6 485.55L403.45 488.4L400.6 491.25L397.75 488.4Z" fill="#FF0000"/>
<path d="M280.5 435.74L283.35 441.06L277.65 441.06Z" fill="#375623"/>
<path d="M287.8 451.04L290.65 456.36L284.95 456.36Z" fill="#375623"/>
<path d="M294.7 460.64L297.55 465.96L291.85 465.96Z" fill="#375623"/>
<path d="M306.5 473.44L309.35 478.76L303.65 478.76Z" fill="#375623"/>
<path d="M315.3 482.44L318.15 487.76L312.45 487.76Z" fill="#375623"/>
<path d="M326.6 491.64L329.45 496.96L323.75 496.96Z" fill="#375623"/>
<path d="M341.5 500.04L344.35 505.36L338.65 505.36Z" fill="#375623"/>
<path d="M346.6 502.14L349.45 507.46L343.75 507.46Z" fill="#375623"/>
<path d="M351.6 503.84L354.45 509.16L348.75 509.16Z" fill="#375623"/>
<path d="M358.9 503.84L361.75 509.16L356.05 509.16Z" fill="#375623"/>
<path d="M373.8 503.54L376.65 508.86L370.95 508.86Z" fill="#375623"/>
<path d="M387.5 503.24L390.35 508.56L384.65 508.56Z" fill="#375623"/>
<path d="M400.6 503.24L403.45 508.56L397.75 508.56Z" fill="#375623"/>
</g>
<g clip-path="url(#ci)">
<rect x="496.6" y="389.8" width="177.4" height="145.5" fill="none" stroke="#3f3f3f" stroke-width="1.4" stroke-linejoin="round"/>
<text transform="translate(486.3 535.3) scale(1.02 1.08)" y="3.5" text-anchor="end" font-size="9.8">30</text>
<text transform="translate(486.3 506.2) scale(1.02 1.08)" y="3.5" text-anchor="end" font-size="9.8">35</text>
<text transform="translate(486.3 477.1) scale(1.02 1.08)" y="3.5" text-anchor="end" font-size="9.8">40</text>
<text transform="translate(486.3 448) scale(1.02 1.08)" y="3.5" text-anchor="end" font-size="9.8">45</text>
<text transform="translate(486.3 418.9) scale(1.02 1.08)" y="3.5" text-anchor="end" font-size="9.8">50</text>
<text transform="translate(486.3 389.8) scale(1.02 1.08)" y="3.5" text-anchor="end" font-size="9.8">55</text>
<text transform="translate(496.6 549.7) scale(1.02 1.08)" y="3.5" text-anchor="middle" font-size="9.8">0</text>
<text transform="translate(555.73 549.7) scale(1.02 1.08)" y="3.5" text-anchor="middle" font-size="9.8">0.05</text>
<text transform="translate(614.87 549.7) scale(1.02 1.08)" y="3.5" text-anchor="middle" font-size="9.8">0.1</text>
<text transform="translate(674 549.7) scale(1.02 1.08)" y="3.5" text-anchor="middle" font-size="9.8">0.15</text>
<text x="585" y="569.2" text-anchor="middle" font-size="10.4">mM</text>
<text transform="translate(469.4 462.5) rotate(-90)" x="0" y="0" text-anchor="middle" font-size="10.4" textLength="28.9" lengthAdjust="spacingAndGlyphs">mN/m</text>
<text transform="translate(585.9 403.8) scale(0.9 1)" x="0" y="0" text-anchor="middle" font-size="13.5" style="fill:#000;stroke:#000;stroke-width:0.15px">i</text>
<rect x="632.16" y="401.46" width="6.08" height="6.08" fill="#00B0F0"/>
<path d="M635.2 420.45L638.05 423.3L635.2 426.15L632.35 423.3Z" fill="#FF0000"/>
<path d="M635.2 439.34L638.05 444.66L632.35 444.66Z" fill="#375623"/>
<text x="640.9" y="407.9" font-size="9.6" textLength="20.8" lengthAdjust="spacingAndGlyphs">25°C</text>
<text x="640.9" y="426.7" font-size="9.6" textLength="20.8" lengthAdjust="spacingAndGlyphs">35°C</text>
<text x="640.9" y="445.4" font-size="9.6" textLength="20.8" lengthAdjust="spacingAndGlyphs">45°C</text>
<rect x="498.66" y="416.06" width="6.08" height="6.08" fill="#00B0F0"/>
<rect x="503.56" y="433.86" width="6.08" height="6.08" fill="#00B0F0"/>
<rect x="510.76" y="450.86" width="6.08" height="6.08" fill="#00B0F0"/>
<rect x="516.66" y="462.46" width="6.08" height="6.08" fill="#00B0F0"/>
<rect x="522.26" y="470.86" width="6.08" height="6.08" fill="#00B0F0"/>
<rect x="528.36" y="474.36" width="6.08" height="6.08" fill="#00B0F0"/>
<rect x="531.76" y="475.46" width="6.08" height="6.08" fill="#00B0F0"/>
<rect x="535.26" y="476.76" width="6.08" height="6.08" fill="#00B0F0"/>
<rect x="543.26" y="476.76" width="6.08" height="6.08" fill="#00B0F0"/>
<rect x="551.86" y="476.76" width="6.08" height="6.08" fill="#00B0F0"/>
<rect x="559.86" y="476.76" width="6.08" height="6.08" fill="#00B0F0"/>
<rect x="574.16" y="476.66" width="6.08" height="6.08" fill="#00B0F0"/>
<rect x="586.96" y="476.66" width="6.08" height="6.08" fill="#00B0F0"/>
<rect x="609.46" y="476.66" width="6.08" height="6.08" fill="#00B0F0"/>
<rect x="635.66" y="476.66" width="6.08" height="6.08" fill="#00B0F0"/>
<path d="M501.7 430.05L504.55 432.9L501.7 435.75L498.85 432.9Z" fill="#FF0000"/>
<path d="M506.6 445.15L509.45 448L506.6 450.85L503.75 448Z" fill="#FF0000"/>
<path d="M513.8 462.65L516.65 465.5L513.8 468.35L510.95 465.5Z" fill="#FF0000"/>
<path d="M519.7 471.05L522.55 473.9L519.7 476.75L516.85 473.9Z" fill="#FF0000"/>
<path d="M525.3 480.25L528.15 483.1L525.3 485.95L522.45 483.1Z" fill="#FF0000"/>
<path d="M531.4 486.15L534.25 489L531.4 491.85L528.55 489Z" fill="#FF0000"/>
<path d="M534.8 488.85L537.65 491.7L534.8 494.55L531.95 491.7Z" fill="#FF0000"/>
<path d="M538.3 491.85L541.15 494.7L538.3 497.55L535.45 494.7Z" fill="#FF0000"/>
<path d="M546.3 496.05L549.15 498.9L546.3 501.75L543.45 498.9Z" fill="#FF0000"/>
<path d="M554.9 496.05L557.75 498.9L554.9 501.75L552.05 498.9Z" fill="#FF0000"/>
<path d="M562.9 496.05L565.75 498.9L562.9 501.75L560.05 498.9Z" fill="#FF0000"/>
<path d="M577.2 496.05L580.05 498.9L577.2 501.75L574.35 498.9Z" fill="#FF0000"/>
<path d="M590 496.05L592.85 498.9L590 501.75L587.15 498.9Z" fill="#FF0000"/>
<path d="M612.5 495.35L615.35 498.2L612.5 501.05L609.65 498.2Z" fill="#FF0000"/>
<path d="M638.7 495.35L641.55 498.2L638.7 501.05L635.85 498.2Z" fill="#FF0000"/>
<path d="M501.7 444.34L504.55 449.66L498.85 449.66Z" fill="#375623"/>
<path d="M506.6 457.34L509.45 462.66L503.75 462.66Z" fill="#375623"/>
<path d="M513.8 471.24L516.65 476.56L510.95 476.56Z" fill="#375623"/>
<path d="M519.7 480.44L522.55 485.76L516.85 485.76Z" fill="#375623"/>
<path d="M525.3 489.04L528.15 494.36L522.45 494.36Z" fill="#375623"/>
<path d="M531.4 494.74L534.25 500.06L528.55 500.06Z" fill="#375623"/>
<path d="M534.8 500.14L537.65 505.46L531.95 505.46Z" fill="#375623"/>
<path d="M538.3 502.74L541.15 508.06L535.45 508.06Z" fill="#375623"/>
<path d="M546.3 506.24L549.15 511.56L543.45 511.56Z" fill="#375623"/>
<path d="M554.9 510.44L557.75 515.76L552.05 515.76Z" fill="#375623"/>
<path d="M562.9 510.44L565.75 515.76L560.05 515.76Z" fill="#375623"/>
<path d="M577.2 509.94L580.05 515.26L574.35 515.26Z" fill="#375623"/>
<path d="M590 509.94L592.85 515.26L587.15 515.26Z" fill="#375623"/>
<path d="M612.5 509.34L615.35 514.66L609.65 514.66Z" fill="#375623"/>
<path d="M638.7 509.34L641.55 514.66L635.85 514.66Z" fill="#375623"/>
</g>
</svg>
</body></html>
